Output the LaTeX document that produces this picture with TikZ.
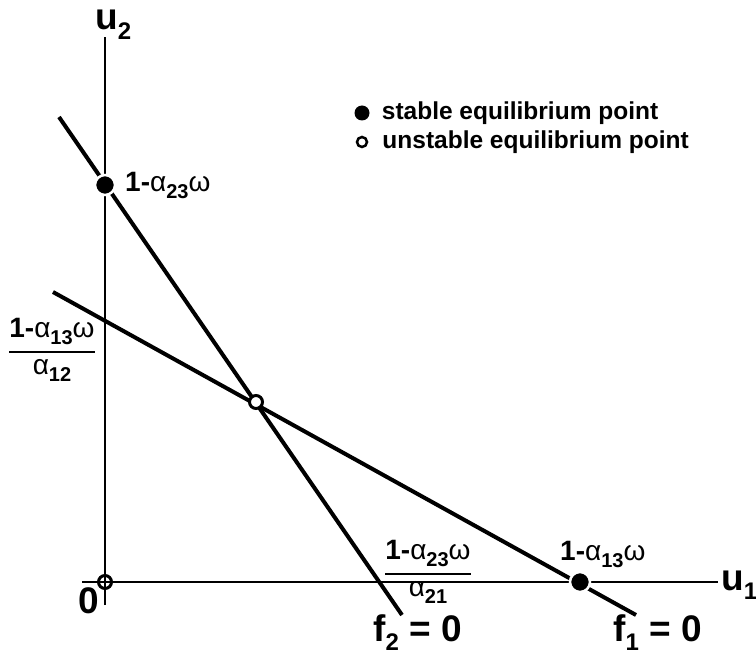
\documentclass[tikz,border=0pt]{standalone}
\usepackage{fontspec}
\setmainfont{Liberation Sans}
\usetikzlibrary{positioning}
\newcommand{\grk}[1]{{\mdseries #1}}
\newcommand{\lowr}[2][20]{\raisebox{-0.25em}{\fontsize{#1}{#1}\selectfont #2}}
\newcommand{\frc}[2]{$\displaystyle{\mbox{#1}\above 2pt\mbox{#2}}$}

\begin{document}
\begin{tikzpicture}[x=1pt,y=-1pt,
    ax/.style={line width=1.8pt},
    ln/.style={line width=4pt},
    stab/.style={circle,fill=black,draw=white,line width=2.5pt,minimum size=20pt,inner sep=0pt},
    unst/.style={circle,draw=black,line width=3pt,fill=white,minimum size=13pt,inner sep=0pt},
    lb/.style={font=\fontsize{28}{30}\selectfont\bfseries,inner sep=0pt},
    big/.style={font=\fontsize{37}{40}\selectfont\bfseries,inner sep=0pt},
    lg/.style={font=\fontsize{24.5}{26}\selectfont\bfseries,inner sep=0pt,anchor=west}]
    \useasboundingbox (0,0) rectangle (756,655);
    % axes
    \coordinate (o) at (105,582);
    \coordinate (ytop) at (105,37);
    \coordinate (ybot) at (105,605);
    \coordinate (xl) at (82,582);
    \coordinate (xr) at (718,582);
    \draw[ax] (ybot)--(ytop); \draw[ax] (xl)--(xr);
    % the two lines f1 = 0 and f2 = 0
    \coordinate (f2a) at (59,117); \coordinate (f2b) at (402,615);
    \coordinate (f1a) at (53,292); \coordinate (f1b) at (636,615);
    \draw[ln] (f2a)--(f2b); \draw[ln] (f1a)--(f1b);
    % equilibrium points
    \node[stab] (p2) at (105,185) {};
    \node[stab] (p1) at (580,582) {};
    \node[unst] (pm) at (256,402) {};
    \node[unst,fill=none] (p0) at (o) {};
    % labels
    \node[big,anchor=base west] (u2) at (95,30) {u\lowr[24]{2}};
    \node[big,anchor=base west] (u1) at (721,590) {u\lowr[24]{1}};
    \node[big,anchor=base west] (zero) at (78,613) {0};
    \node[lb,anchor=base west] (l2) at (125,192) {1-\grk{α}\lowr{23}\grk{ω}};
    \node[lb,anchor=base west] (l1) at (560,560) {1-\grk{α}\lowr{13}\grk{ω}};
    \node[lb] (q1) at (52,350) {\frc{1-\grk{α}\lowr{13}\grk{ω}}{\grk{α}\lowr{12}}};
    \node[lb] (q2) at (428,572) {\frc{1-\grk{α}\lowr{23}\grk{ω}}{\grk{α}\lowr{21}}};
    \node[big,anchor=base west] (e2) at (373,641) {f\lowr[24]{2} = 0};
    \node[big,anchor=base west] (e1) at (613,641) {f\lowr[24]{1} = 0};
    % legend
    \node[circle,fill=black,minimum size=15pt,inner sep=0pt] (ks) at (362,113) {};
    \node[circle,draw=black,line width=2.5pt,minimum size=10pt,inner sep=0pt] (ku) at (362,142) {};
    \node[lg,right=12pt of ks] (ts) {stable equilibrium point};
    \node[lg,right=14pt of ku] (tu) {unstable equilibrium point};
  \end{tikzpicture}
\end{document}
